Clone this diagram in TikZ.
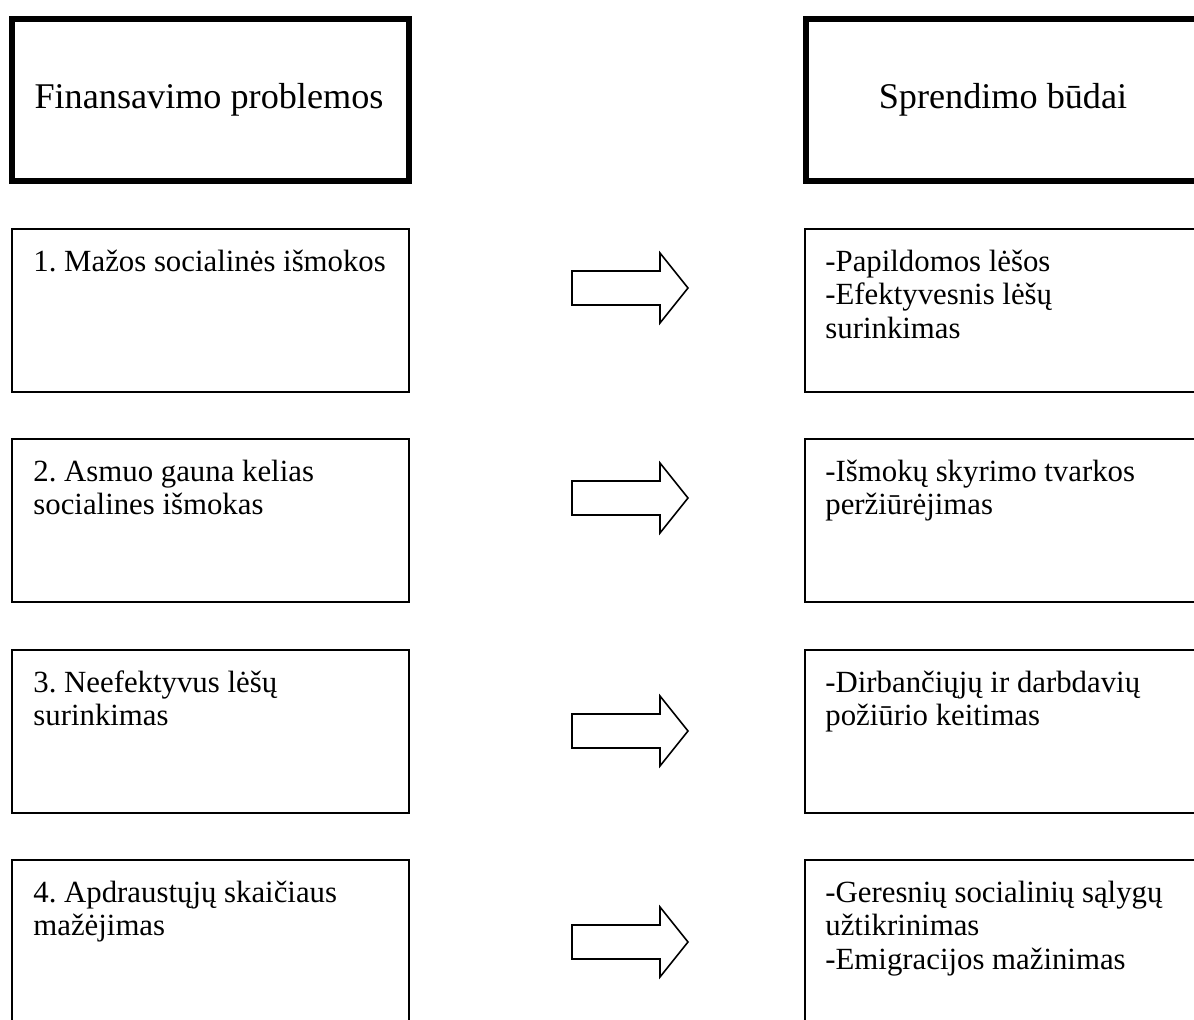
\documentclass[tikz,border=0pt]{standalone}
\usepackage{fontspec}
\setmainfont{Liberation Serif}
\frenchspacing
\newcommand{\firststrut}{\rule{0pt}{1em}}
\begin{document}
\begin{tikzpicture}[x=0.5pt,y=-0.5pt,
  headbox/.style={draw,line width=3pt,rectangle,inner sep=0},
  itembox/.style={draw,line width=0.8pt,rectangle,inner sep=0},
  headtext/.style={font=\fontsize{18.1}{22}\selectfont,inner sep=0,anchor=base},
  itemtext/.style={font=\fontsize{15.4}{16.75}\selectfont,align=left,anchor=north west,inner sep=0},
  blockarrow/.style={draw,line width=0.8pt,line join=miter}]
\useasboundingbox (0,0) rectangle (1194,1019);
\clip (0,0) rectangle (1194,1019);
% header boxes
\draw[headbox] (12,19) rectangle (409,181);
\node[headtext] (h1) at (209,108) {Finansavimo problemos};
\draw[headbox] (806,19) rectangle (1200,181);
\node[headtext] (h2) at (1003,108) {Sprendimo būdai};
% row boxes
\foreach \t [count=\i] in {229,439,650,860}{
  \draw[itembox] (12,\t) rectangle (409,\t+163);
  \draw[itembox] (805,\t) rectangle (1200,\t+163);
}
% texts
\node[itemtext] (l1) at (33,240) {\firststrut 1. Mažos socialinės išmokos};
\node[itemtext] (r1) at (825,240) {\firststrut -Papildomos lėšos\\-Efektyvesnis lėšų\\surinkimas};
\node[itemtext] (l2) at (33,450) {\firststrut 2. Asmuo gauna kelias\\socialines išmokas};
\node[itemtext] (r2) at (825,450) {\firststrut -Išmokų skyrimo tvarkos\\peržiūrėjimas};
\node[itemtext] (l3) at (33,661) {\firststrut 3. Neefektyvus lėšų\\surinkimas};
\node[itemtext] (r3) at (825,661) {\firststrut -Dirbančiųjų ir darbdavių\\požiūrio keitimas};
\node[itemtext] (l4) at (33,871) {\firststrut 4. Apdraustųjų skaičiaus\\mažėjimas};
\node[itemtext] (r4) at (825,871) {\firststrut -Geresnių socialinių sąlygų\\užtikrinimas\\-Emigracijos mažinimas};
% block arrows
\foreach \c in {288,498,731,942}{
  \draw[blockarrow] (572,\c-17) -- (660,\c-17) -- (660,\c-35) -- (688,\c) -- (660,\c+35) -- (660,\c+17) -- (572,\c+17) -- cycle;
}
\end{tikzpicture}
\end{document}
